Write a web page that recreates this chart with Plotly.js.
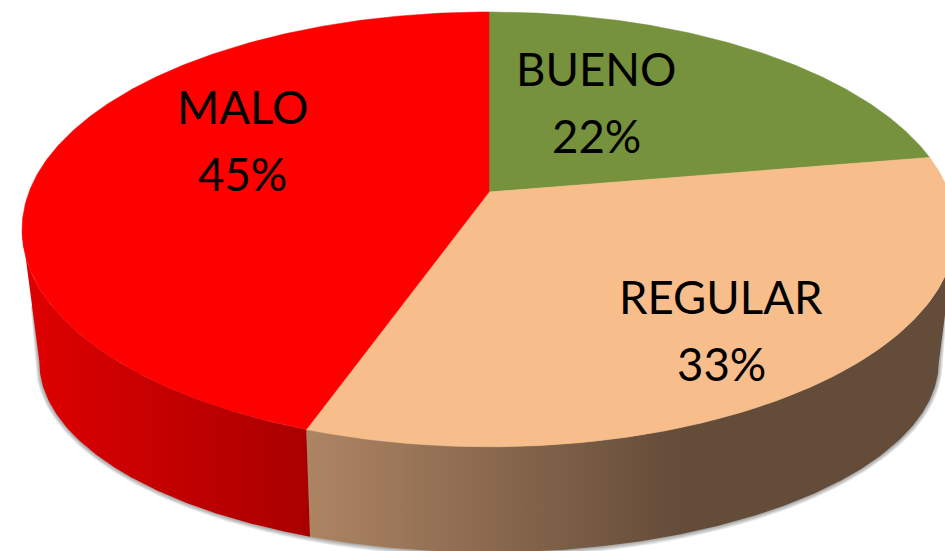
<!DOCTYPE html>
<html>
<head>
<meta charset="utf-8">
<script src="https://cdn.plot.ly/plotly-3.0.1.min.js"></script>
<style>html,body{margin:0;padding:0;background:#fff;overflow:hidden}#chart{width:945px;height:551px}</style>
</head>
<body>
<div id="chart"></div>
<script>
// Data (order: clockwise from 12 o'clock)
var categories = ['BUENO', 'REGULAR', 'MALO'];
var shares = [22.3, 33.1, 44.6];

// Styles
var faceColors = ['#76923c', '#f7bd8b', '#ff0000'];
var wallRamps = [
  null,
  [[0, '#ae8563'], [0.58, '#644c39'], [1, '#634c39']],
  [[0, '#e00000'], [1, '#a80000']]
];
var labelCentres = [[596, 68, 135], [721, 296, 363], [242, 106, 173]];

// Projection of a flat disc seen in perspective
var P = 0.172, CX = 489;
var topDisc = {a: 460, b: 211, hub: 192, turn: 0};
var baseDisc = {a: 443, b: 184.8, hub: 329.2, turn: 0.35};
function proj(d, deg, grow) {
  var t = (deg + d.turn) * Math.PI / 180, u = Math.sin(t), v = Math.cos(t), w = 1 + P * v;
  var g = grow || 0;
  return [CX + (d.a + g) * u / w, d.hub - (d.b + g) * v / w];
}
function arc(d, from, to, grow) {
  var pts = [], n = Math.max(2, Math.ceil(Math.abs(to - from) * 2));
  for (var i = 0; i <= n; i++) pts.push(proj(d, from + (to - from) * i / n, grow));
  return pts;
}
function xy(pts) {
  return {x: pts.map(function (p) { return p[0]; }), y: pts.map(function (p) { return p[1]; })};
}

var total = shares.reduce(function (a, b) { return a + b; }, 0);
var angles = [0];
shares.forEach(function (s, i) { angles.push(angles[i] + s / total * 360); });

var LEFT_T = 260, RIGHT_T = 100;
var traces = [];

// soft shadow under the base
[5, 4, 3, 2, 1].forEach(function (k) {
  var l0 = proj(topDisc, LEFT_T), l1 = proj(baseDisc, LEFT_T);
  var r0 = proj(topDisc, RIGHT_T), r1 = proj(baseDisc, RIGHT_T);
  var pts = [[(l0[0] + l1[0]) / 2 + 2 - k * 0.4, (l0[1] + l1[1]) / 2 + 10]]
    .concat(arc(baseDisc, LEFT_T, RIGHT_T, k * 0.8))
    .concat([[(r0[0] + r1[0]) / 2 - 2 + k * 0.4, (r0[1] + r1[1]) / 2 + 10]]);
  var c = xy(pts);
  traces.push({type: 'scatter', mode: 'lines', x: c.x, y: c.y, fill: 'toself',
    fillcolor: 'rgba(60,60,60,0.10)', line: {width: 0}, hoverinfo: 'skip'});
});

// side walls
categories.forEach(function (name, i) {
  if (!wallRamps[i]) return;
  var from = Math.max(angles[i], RIGHT_T), to = Math.min(angles[i + 1], LEFT_T);
  if (to <= from) return;
  var pts = arc(topDisc, from, to).concat(arc(baseDisc, to, from));
  var c = xy(pts);
  traces.push({type: 'scatter', mode: 'lines', x: c.x, y: c.y, fill: 'toself',
    line: {width: 0}, hoverinfo: 'skip',
    fillgradient: {type: 'horizontal', colorscale: wallRamps[i]}});
});

// top faces
categories.forEach(function (name, i) {
  var pts = [[CX, topDisc.hub]].concat(arc(topDisc, angles[i], angles[i + 1]));
  pts.push([CX, topDisc.hub]);
  var c = xy(pts);
  traces.push({type: 'scatter', mode: 'lines', name: name, x: c.x, y: c.y, fill: 'toself',
    fillcolor: faceColors[i], line: {width: 0.5, color: faceColors[i]},
    hoverinfo: 'skip'});
});

// labels
var annotations = [];
categories.forEach(function (name, i) {
  var f = {family: 'Lato, sans-serif', size: 45.5, color: '#000'};
  annotations.push({x: labelCentres[i][0], y: labelCentres[i][1], text: name, showarrow: false, font: f,
    xref: 'x', yref: 'y', xanchor: 'center', yanchor: 'middle'});
  annotations.push({x: labelCentres[i][0], y: labelCentres[i][2], text: Math.round(shares[i]) + '%', showarrow: false, font: f,
    xref: 'x', yref: 'y', xanchor: 'center', yanchor: 'middle'});
});

Plotly.newPlot('chart', traces, {
  width: 945, height: 551,
  margin: {l: 0, r: 0, t: 0, b: 0},
  showlegend: false,
  paper_bgcolor: '#fff', plot_bgcolor: '#fff',
  xaxis: {range: [0, 945], visible: false, fixedrange: true},
  yaxis: {range: [551, 0], visible: false, fixedrange: true},
  annotations: annotations
}, {displayModeBar: false, responsive: false});
</script>
</body>
</html>
